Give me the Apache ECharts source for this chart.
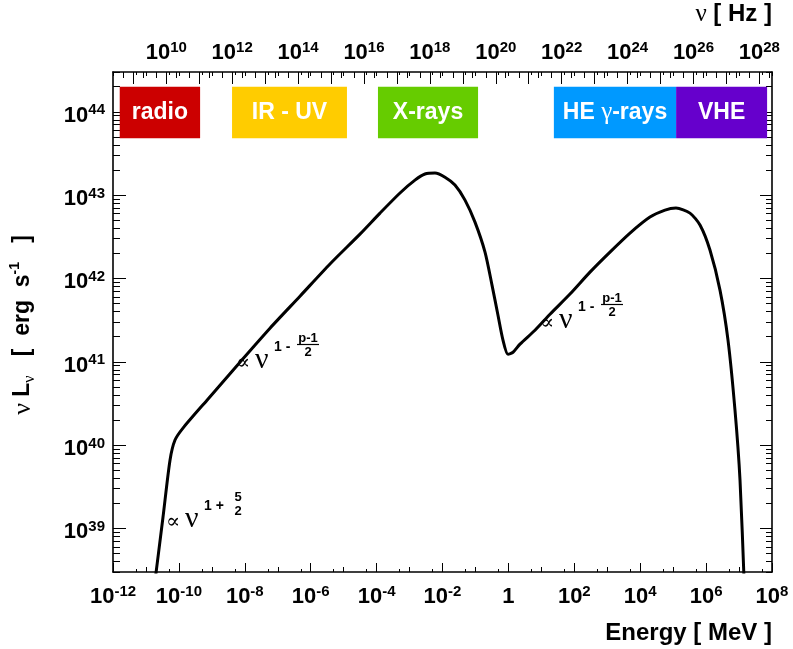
<!DOCTYPE html>
<html><head><meta charset="utf-8">
<script src="https://cdn.jsdelivr.net/npm/echarts@6/dist/echarts.min.js"></script>
<style>html,body{margin:0;padding:0;background:#fff}#c{width:793px;height:649px}</style>
</head><body><div id="c"></div>
<script>
// ---- data ----
// photon energy in MeV
const energyMeV = [1.66e-11, 3.29e-11, 5.37e-11, 7.62e-11, 1.33e-10, 7.13e-10, 7.14e-9, 5.82e-8, 4.73e-7, 3.85e-6,
  3.13e-5, 1.27e-4, 5.13e-4, 1.46e-3, 2.94e-3, 5.92e-3, 1.19e-2, 2.39e-2, 4.82e-2, 9.68e-2,
  0.195, 0.318, 0.483, 0.685, 0.973, 1.38, 2.25, 6.41, 18.3, 74.1,
  299, 1210, 4900, 1.98e4, 5.66e4, 1.22e5, 3.24e5, 6.53e5, 1.31e6, 2.64e6,
  4.62e6, 7.53e6, 1.07e7, 1.48e7];
// nu L_nu in erg/s
const nuLnu = [1.58e38, 1.36e39, 6.59e39, 1.15e40, 1.60e40, 3.46e40, 9.89e40, 2.53e41, 6.12e41, 1.49e42,
  3.40e42, 6.08e42, 1.06e43, 1.51e43, 1.79e43, 1.84e43, 1.64e43, 1.32e43, 8.71e42, 4.74e42,
  2.07e42, 8.32e41, 3.62e41, 1.82e41, 1.23e41, 1.30e41, 1.63e41, 2.39e41, 3.72e41, 6.49e41,
  1.19e42, 2.07e42, 3.50e42, 5.45e42, 6.61e42, 6.98e42, 6.08e42, 4.37e42, 2.19e42, 7.24e41,
  1.82e41, 2.62e40, 3.79e39, 1.58e38];

const bandNames  = ['radio', 'IR - UV', 'X-rays', 'HE γ-rays', 'VHE'];
const bandLowMeV = [1.6e-12, 4.1e-9, 1.1e-4, 24, 1.23e5];
const bandHighMeV= [4.4e-10, 1.26e-5, 0.12, 1.23e5, 7.1e7];
const bandColors = ['#cc0000', '#ffcc00', '#66cc00', '#0099ff', '#6600cc'];
const bandLum    = [4.8e43, 2.0e44];

const energyRange = [1e-12, 1e8];
const lumRange    = [3e38, 3e44];
const energyLabelExp = [-12, -10, -8, -6, -4, -2, 0, 2, 4, 6, 8];
const freqLabelExp   = [10, 12, 14, 16, 18, 20, 22, 24, 26, 28];
const lumLabelExp    = [39, 40, 41, 42, 43, 44];
const PLANCK_MEV_S = 4.135667696e-21;

// ---- build ----
const lg = Math.log10;
const XMIN = lg(energyRange[0]), XMAX = lg(energyRange[1]);
const YMIN = lg(lumRange[0]), YMAX = lg(lumRange[1]);
const NU_OFF = -lg(PLANCK_MEV_S);
const NMIN = XMIN + NU_OFF, NMAX = XMAX + NU_OFF;

function within(arr, a, b) { return arr.filter(v => v >= a - 1e-9 && v <= b + 1e-9); }
const eDec = [], eHalf = [];
for (let n = Math.floor(XMIN); n <= XMAX; n++) { eDec.push(n); eHalf.push(n + lg(5)); }
const nuDec = [], nuMin = [];
for (let n = Math.floor(NMIN); n <= NMAX; n++) { nuDec.push(n); nuMin.push(n + lg(2), n + lg(5)); }
const yDec = [], yMin = [];
for (let n = Math.floor(YMIN); n <= YMAX; n++) { yDec.push(n); for (let k = 2; k <= 9; k++) yMin.push(n + lg(k)); }

const SANS = '"Liberation Sans", Arial, Helvetica, sans-serif';
const SERIF = '"Liberation Serif", "DejaVu Serif", serif';
const richExp = {
  b: { fontFamily: SANS, fontWeight: 'bold', fontSize: 22, lineHeight: 26, color: '#000' },
  s: { fontFamily: SANS, fontWeight: 'bold', fontSize: 15, lineHeight: 15, verticalAlign: 'top', color: '#000' }
};
function expFmt(v) { const n = Math.round(v); return n === 0 ? '{b|1}' : '{b|10}{s|' + n + '}'; }

const LINE = { show: true, onZero: false, lineStyle: { color: '#000', width: 1.6 } };
const NOLINE = { show: false, onZero: false };
const TK = { color: '#000', width: 1 };
function baseX(extra) {
  return Object.assign({ type: 'value', min: XMIN, max: XMAX, gridIndex: 0, splitLine: { show: false },
    axisLine: NOLINE, axisLabel: { show: false }, axisTick: { show: false } }, extra);
}

const xAxes = [
  baseX({ position: 'bottom', axisLine: LINE,
    axisTick: { show: true, inside: true, length: 9, customValues: within(energyLabelExp, XMIN, XMAX), lineStyle: TK },
    axisLabel: { show: true, customValues: within(energyLabelExp, XMIN, XMAX), formatter: expFmt, rich: richExp, margin: 12 } }),
  baseX({ position: 'bottom', axisTick: { show: true, inside: true, length: 5, customValues: eDec, lineStyle: TK } }),
  baseX({ position: 'bottom', axisTick: { show: true, inside: true, length: 3, customValues: within(eHalf, XMIN, XMAX), lineStyle: TK } }),
  baseX({ position: 'top', axisLine: LINE, axisTick: { show: true, inside: true, length: 4, customValues: eDec, lineStyle: TK } }),
  baseX({ position: 'top', axisTick: { show: true, inside: true, length: 3, customValues: within(eHalf, XMIN, XMAX), lineStyle: TK } }),
  { type: 'value', position: 'top', min: NMIN, max: NMAX, splitLine: { show: false }, axisLine: NOLINE,
    axisTick: { show: true, inside: true, length: 12, customValues: within(nuDec, NMIN, NMAX), lineStyle: TK },
    axisLabel: { show: true, customValues: within(freqLabelExp, NMIN, NMAX), formatter: expFmt, rich: richExp, margin: 6 } },
  { type: 'value', position: 'top', min: NMIN, max: NMAX, splitLine: { show: false }, axisLine: NOLINE, axisLabel: { show: false },
    axisTick: { show: true, inside: true, length: 6, customValues: within(nuMin, NMIN, NMAX), lineStyle: TK } }
];
function baseY(extra) {
  return Object.assign({ type: 'value', min: YMIN, max: YMAX, splitLine: { show: false },
    axisLine: NOLINE, axisLabel: { show: false }, axisTick: { show: false } }, extra);
}
const yAxes = [
  baseY({ position: 'left', axisLine: LINE,
    axisTick: { show: true, inside: true, length: 13, customValues: within(yDec, YMIN, YMAX), lineStyle: TK },
    axisLabel: { show: true, customValues: within(lumLabelExp, YMIN, YMAX), formatter: expFmt, rich: richExp, margin: 8, padding: [8, 0, 0, 0] } }),
  baseY({ position: 'left', axisTick: { show: true, inside: true, length: 7, customValues: within(yMin, YMIN, YMAX), lineStyle: TK } }),
  baseY({ position: 'right', axisLine: LINE, axisTick: { show: true, inside: true, length: 12, customValues: within(yDec, YMIN, YMAX), lineStyle: TK } }),
  baseY({ position: 'right', axisTick: { show: true, inside: true, length: 6, customValues: within(yMin, YMIN, YMAX), lineStyle: TK } })
];

const bandData = bandNames.map((name, i) => [
  { name: name, xAxis: lg(bandLowMeV[i]), yAxis: lg(bandLum[0]), itemStyle: { color: bandColors[i], opacity: 1 } },
  { xAxis: lg(bandHighMeV[i]), yAxis: lg(bandLum[1]) }
]);

const curve = energyMeV.map((e, i) => [lg(e), lg(nuLnu[i])]);

// annotation builder (power-law labels)
function powerLaw(x, y, op, num, den, withBar) {
  const fx = x + 72;
  const kids = [
    { type: 'text', x: x, y: y + 1, style: { text: '∝', font: '21px ' + SERIF, fill: '#000', textVerticalAlign: 'middle' } },
    { type: 'text', x: x + 19, y: y - 2, style: { text: 'ν', font: '30px ' + SERIF, fill: '#000', textVerticalAlign: 'middle' } },
    { type: 'text', x: x + 38, y: y - 15, style: { text: '1 ' + op, font: 'bold 14px ' + SANS, fill: '#000', textVerticalAlign: 'middle' } },
    { type: 'text', x: fx, y: y - 24, style: { text: num, font: 'bold 13px ' + SANS, fill: '#000', textAlign: 'center', textVerticalAlign: 'middle' } },
    { type: 'text', x: fx, y: y - 10, style: { text: den, font: 'bold 13px ' + SANS, fill: '#000', textAlign: 'center', textVerticalAlign: 'middle' } }
  ];
  if (withBar) kids.push({ type: 'line', shape: { x1: fx - 11, y1: y - 17.5, x2: fx + 11, y2: y - 17.5 }, style: { stroke: '#000', lineWidth: 1.2 } });
  return { type: 'group', children: kids };
}

const option = {
  animation: false,
  backgroundColor: '#fff',
  grid: { left: 113, top: 72, width: 659, height: 500 },
  xAxis: xAxes,
  yAxis: yAxes,
  series: [{
    type: 'line', xAxisIndex: 0, yAxisIndex: 0, data: curve, showSymbol: false, smooth: 0.25,
    lineStyle: { color: '#000', width: 3 }, clip: true,
    markArea: {
      silent: true,
      label: { show: true, position: 'inside', color: '#fff',
        formatter: p => p.name === 'HE γ-rays' ? '{t|HE }{g|γ}{t|-rays}' : '{t|' + p.name + '}',
        rich: { t: { color: '#fff', fontFamily: SANS, fontWeight: 'bold', fontSize: 23 },
                g: { color: '#fff', fontFamily: SERIF, fontSize: 25 } } },
      data: bandData
    }
  }],
  graphic: [
    { type: 'text', x: 772, y: 633, style: { text: 'Energy [ MeV ]', font: 'bold 24px ' + SANS, fill: '#000', textAlign: 'right', textVerticalAlign: 'middle' } },
    { type: 'text', x: 772, y: 14, style: { text: '{n|ν}{b| [ Hz ]}', textAlign: 'right', textVerticalAlign: 'middle',
      rich: { n: { fontFamily: SERIF, fontSize: 25, fill: '#000' }, b: { fontFamily: SANS, fontWeight: 'bold', fontSize: 24, fill: '#000' } } } },
    { type: 'text', x: 23, y: 325, rotation: Math.PI / 2, style: { text: '{n|ν}{b| L}{sub|ν}{b|   [  erg  s}{sup|-1}{b|   ]}', textAlign: 'center', textVerticalAlign: 'middle',
      rich: { n: { fontFamily: SERIF, fontSize: 26, fill: '#000', lineHeight: 30 },
              b: { fontFamily: SANS, fontWeight: 'bold', fontSize: 23, fill: '#000', lineHeight: 30 },
              sub: { fontFamily: SERIF, fontSize: 16, fill: '#000', verticalAlign: 'bottom', lineHeight: 16 },
              sup: { fontFamily: SANS, fontWeight: 'bold', fontSize: 14, fill: '#000', verticalAlign: 'top', lineHeight: 14 } } } },
    powerLaw(166, 521, '+', '5', '2', false),
    powerLaw(236, 362, '-', 'p-1', '2', true),
    powerLaw(540, 322, '-', 'p-1', '2', true)
  ]
};
const chart = echarts.init(document.getElementById('c'));
chart.setOption(option);
</script>
</body></html>
